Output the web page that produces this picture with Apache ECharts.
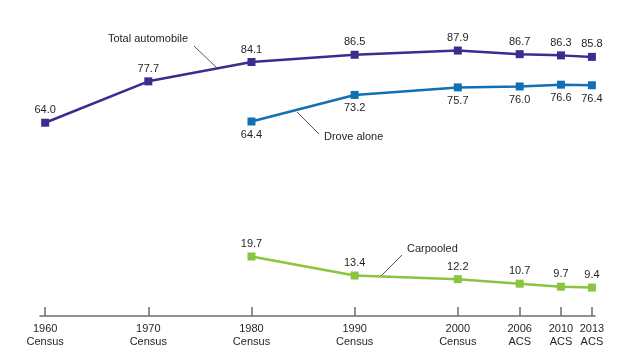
<!DOCTYPE html>
<html>
<head>
<meta charset="utf-8">
<script src="https://cdn.jsdelivr.net/npm/echarts@6/dist/echarts.min.js"></script>
<style>
  html, body { margin: 0; padding: 0; background: #fff; }
  #main { width: 630px; height: 350px; }
</style>
</head>
<body>
<div id="main"></div>
<script>
const years = [1960, 1970, 1980, 1990, 2000, 2006, 2010, 2013];
const tickNames = ['1960\nCensus', '1970\nCensus', '1980\nCensus', '1990\nCensus', '2000\nCensus', '2006\nACS', '2010\nACS', '2013\nACS'];
const totalAuto = [64.0, 77.7, 84.1, 86.5, 87.9, 86.7, 86.3, 85.8];
const droveAlone = [null, null, 64.4, 73.2, 75.7, 76.0, 76.6, 76.4];
const carpooled = [null, null, 19.7, 13.4, 12.2, 10.7, 9.7, 9.4];

const font = 'Liberation Sans, Arial, sans-serif';
const textColor = '#231f20';

const pairs = (vals) => years.map((y, i) => [y, vals[i]]).filter(p => p[1] != null);

const line = (name, vals, color, pos, dist) => ({
  name: name,
  type: 'line',
  data: pairs(vals),
  symbol: 'rect',
  symbolSize: 8,
  lineStyle: { color: color, width: 2.5 },
  itemStyle: { color: color },
  label: {
    show: true,
    position: pos,
    distance: dist,
    color: textColor,
    fontFamily: font,
    fontSize: 11,
    formatter: (p) => p.value[1].toFixed(1)
  },
  animation: false
});

const option = {
  grid: { left: 40, right: 35, top: 14, bottom: 34 },
  xAxis: {
    type: 'value',
    min: 1959.5,
    max: 2013.3,
    splitLine: { show: false },
    axisLine: { lineStyle: { color: '#6d6e71', width: 1.5 } },
    axisTick: { show: true, inside: true, length: 9, customValues: years, lineStyle: { color: '#6d6e71', width: 1.5 } },
    axisLabel: {
      customValues: years,
      formatter: (v) => tickNames[years.indexOf(v)] || '',
      color: textColor,
      fontFamily: font,
      fontSize: 11,
      lineHeight: 13,
      margin: 6
    }
  },
  yAxis: {
    type: 'value',
    min: 0,
    max: 100,
    show: false
  },
  series: [
    line('Total automobile', totalAuto, '#3f2a8f', 'top', 3),
    line('Drove alone', droveAlone, '#1070b3', 'bottom', 4),
    line('Carpooled', carpooled, '#8bc43f', 'top', 3)
  ],
  graphic: [
    { type: 'text', right: 630 - 188, top: 33, style: { text: 'Total automobile', fill: textColor, font: '11px ' + font } },
    { type: 'line', shape: { x1: 194, y1: 46, x2: 217, y2: 68 }, style: { stroke: '#555', lineWidth: 1 } },
    { type: 'text', left: 324, top: 131, style: { text: 'Drove alone', fill: textColor, font: '11px ' + font } },
    { type: 'line', shape: { x1: 297, y1: 112, x2: 319, y2: 134 }, style: { stroke: '#555', lineWidth: 1 } },
    { type: 'text', left: 407, top: 243, style: { text: 'Carpooled', fill: textColor, font: '11px ' + font } },
    { type: 'line', shape: { x1: 402, y1: 255, x2: 380, y2: 277 }, style: { stroke: '#555', lineWidth: 1 } }
  ]
};

echarts.init(document.getElementById('main')).setOption(option);
</script>
</body>
</html>
